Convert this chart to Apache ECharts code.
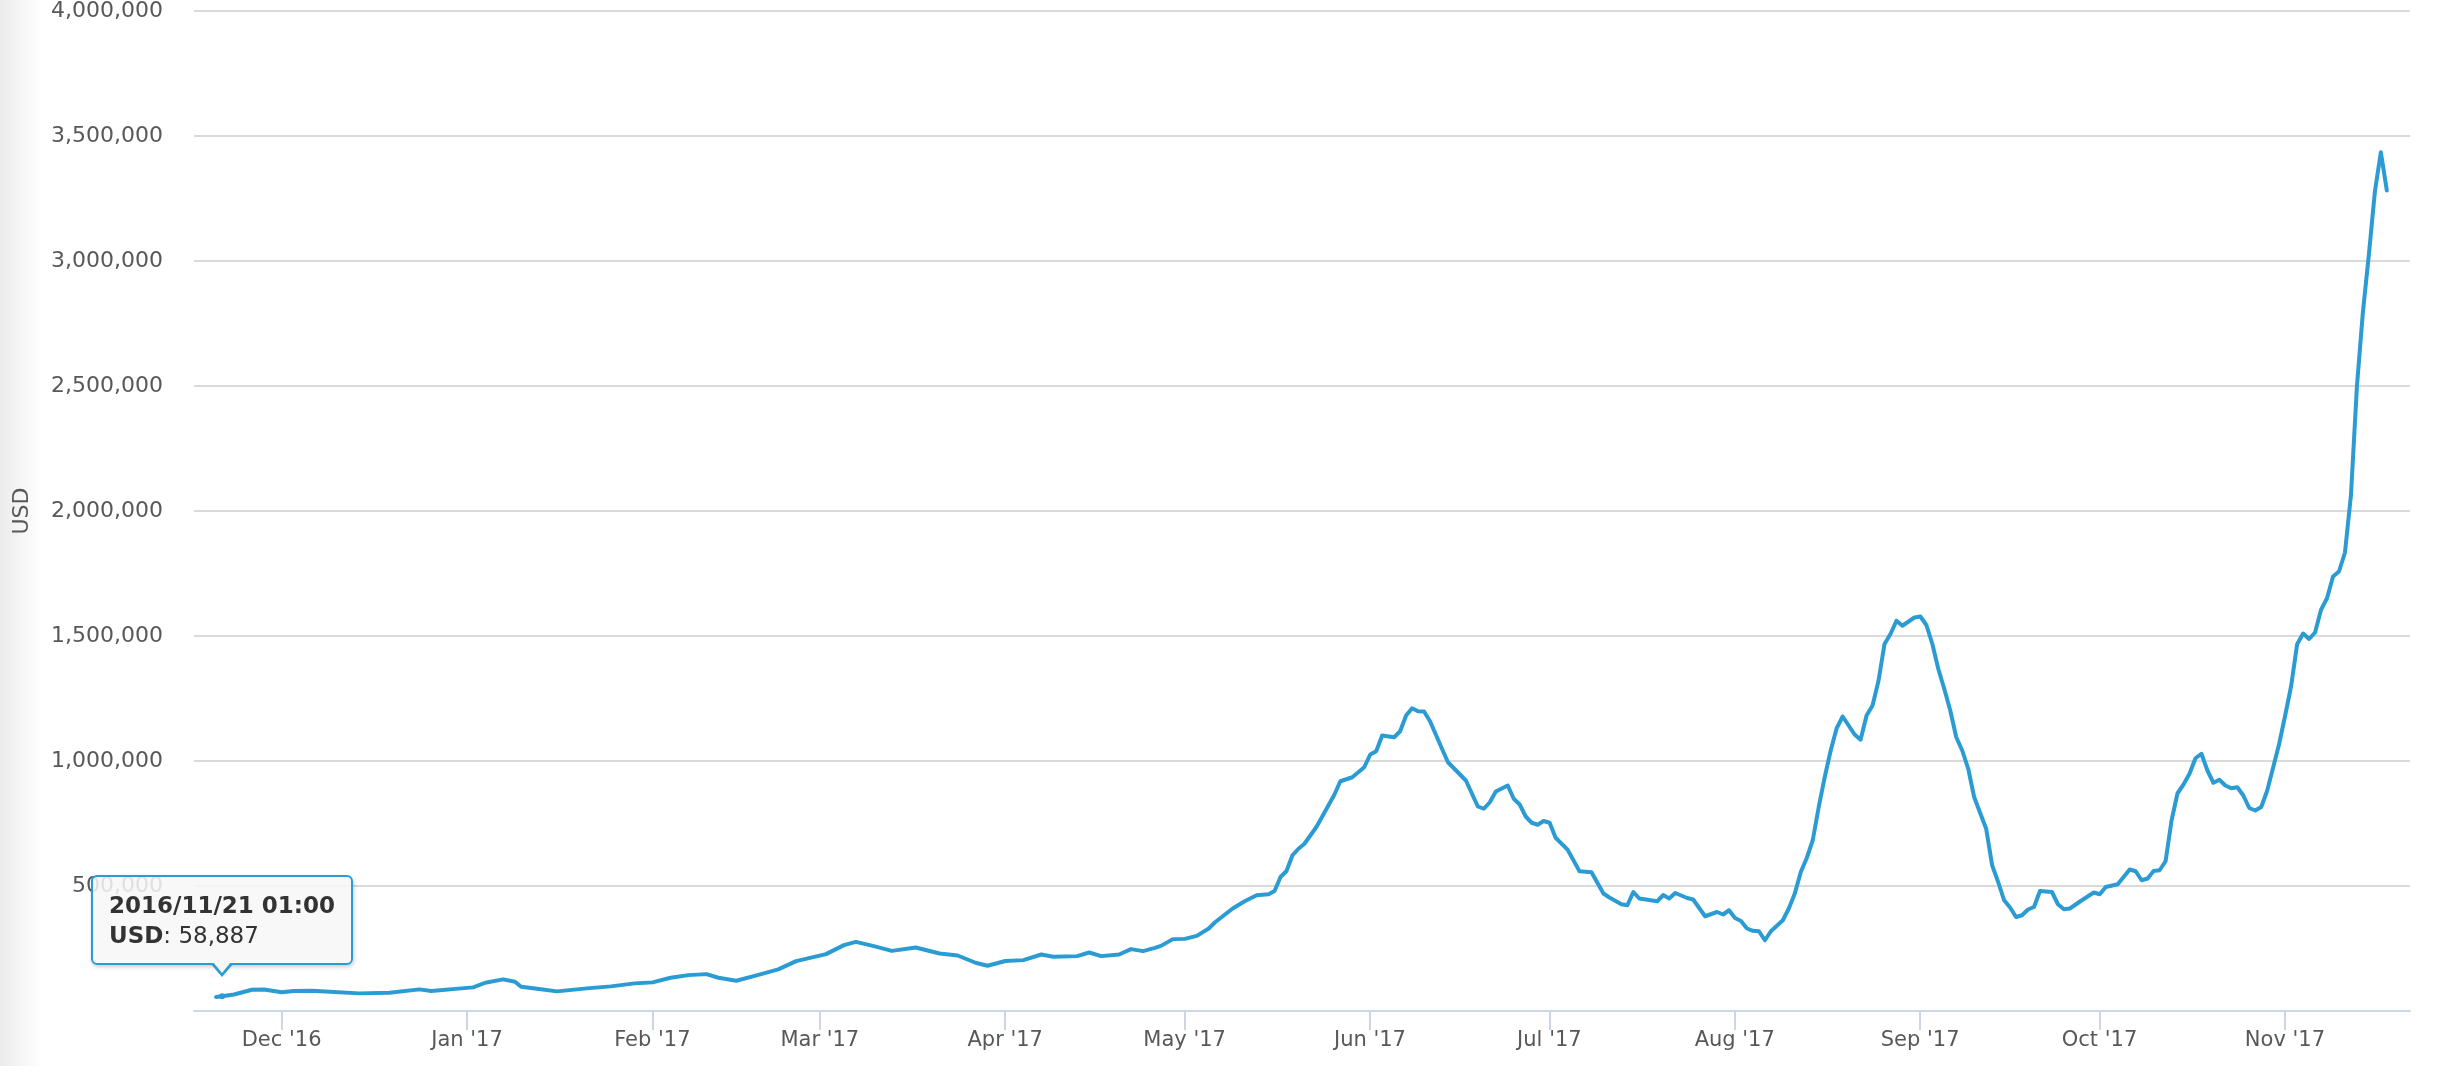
<!DOCTYPE html>
<html>
<head>
<meta charset="utf-8">
<script src="https://cdn.jsdelivr.net/npm/echarts@6/dist/echarts.min.js"></script>
<style>
html,body{margin:0;padding:0;width:2454px;height:1066px;overflow:hidden;
  background:linear-gradient(to right,#ebebeb 0px,#f4f4f4 18px,#ffffff 42px);}
#chart{width:2454px;height:1066px;}
</style>
</head>
<body>
<div id="chart"></div>
<script>
// ---- data ----
const dates = [
'2016-11-20','2016-11-21','2016-11-23','2016-11-26','2016-11-28',
'2016-12-01','2016-12-03','2016-12-06','2016-12-09','2016-12-14','2016-12-19','2016-12-24','2016-12-26','2016-12-31',
'2017-01-02','2017-01-04','2017-01-07','2017-01-09','2017-01-10','2017-01-13','2017-01-16','2017-01-21','2017-01-25','2017-01-29',
'2017-02-01','2017-02-04','2017-02-07','2017-02-10','2017-02-12','2017-02-15','2017-02-19','2017-02-22','2017-02-25',
'2017-03-02','2017-03-05','2017-03-07','2017-03-10','2017-03-13','2017-03-17','2017-03-21','2017-03-24','2017-03-27','2017-03-29',
'2017-04-01','2017-04-04','2017-04-07','2017-04-09','2017-04-13','2017-04-15','2017-04-17','2017-04-20','2017-04-22','2017-04-24','2017-04-26','2017-04-27','2017-04-29',
'2017-05-01','2017-05-03','2017-05-05','2017-05-06','2017-05-09','2017-05-11','2017-05-13','2017-05-15','2017-05-16','2017-05-17','2017-05-18','2017-05-19','2017-05-20','2017-05-21','2017-05-23','2017-05-25','2017-05-26','2017-05-27','2017-05-29','2017-05-31',
'2017-06-01','2017-06-02','2017-06-03','2017-06-05','2017-06-06','2017-06-07','2017-06-08','2017-06-09','2017-06-10','2017-06-11','2017-06-13','2017-06-14','2017-06-17','2017-06-19','2017-06-20','2017-06-21','2017-06-22','2017-06-24','2017-06-25','2017-06-26','2017-06-27','2017-06-28','2017-06-29','2017-06-30',
'2017-07-01','2017-07-02','2017-07-04','2017-07-06','2017-07-08','2017-07-10','2017-07-11','2017-07-13','2017-07-14','2017-07-15','2017-07-16','2017-07-19','2017-07-20','2017-07-21','2017-07-22','2017-07-24','2017-07-25','2017-07-27','2017-07-29','2017-07-30','2017-07-31',
'2017-08-01','2017-08-02','2017-08-03','2017-08-04','2017-08-05','2017-08-06','2017-08-07','2017-08-09','2017-08-10','2017-08-11','2017-08-12','2017-08-13','2017-08-14','2017-08-15','2017-08-16','2017-08-17','2017-08-18','2017-08-19','2017-08-20','2017-08-21','2017-08-22','2017-08-23','2017-08-24','2017-08-25','2017-08-26','2017-08-27','2017-08-28','2017-08-29','2017-08-31',
'2017-09-01','2017-09-02','2017-09-03','2017-09-04','2017-09-05','2017-09-06','2017-09-07','2017-09-08','2017-09-09','2017-09-10','2017-09-12','2017-09-13','2017-09-14','2017-09-15','2017-09-16','2017-09-17','2017-09-18','2017-09-19','2017-09-20','2017-09-21','2017-09-23','2017-09-24','2017-09-25','2017-09-26','2017-09-28','2017-09-30',
'2017-10-01','2017-10-02','2017-10-04','2017-10-06','2017-10-07','2017-10-08','2017-10-09','2017-10-10','2017-10-11','2017-10-12','2017-10-13','2017-10-14','2017-10-15','2017-10-16','2017-10-17','2017-10-18','2017-10-19','2017-10-20','2017-10-21','2017-10-22','2017-10-23','2017-10-24','2017-10-25','2017-10-26','2017-10-27','2017-10-28','2017-10-29','2017-10-30','2017-10-31',
'2017-11-01','2017-11-02','2017-11-03','2017-11-04','2017-11-05','2017-11-06','2017-11-07','2017-11-08','2017-11-09','2017-11-10','2017-11-11','2017-11-12','2017-11-13','2017-11-14','2017-11-15','2017-11-16','2017-11-17','2017-11-18'
];
const usd = [
56000,58887,66000,85000,86000,
75000,80000,81000,77000,70500,73000,86500,80000,90500,
94500,113000,126500,117000,97000,88000,78500,90500,98500,110500,
114500,133000,143500,147500,133000,121000,146500,166500,199500,
227500,263500,276500,259500,240500,254000,230000,222000,193000,181000,
200000,203500,226000,216800,219500,234000,219500,226000,247500,239500,252500,260500,287500,
288500,300500,330000,354000,410000,439000,463000,467000,480000,536000,560000,623000,649000,669000,736000,822000,865000,919000,935000,975000,
1026000,1039000,1102000,1095000,1119000,1182000,1211000,1199000,1198000,1159000,1049000,995000,922000,818000,809000,835000,878000,902000,849000,826000,778000,753000,745000,760000,
753000,693000,645500,559000,555000,470000,454000,427000,423000,476000,450000,439000,464000,450000,472000,452000,446000,379000,396000,386000,403000,
372000,360000,330000,320600,319000,283000,319000,363000,410000,470000,556000,612000,683000,816000,935000,1042000,1131000,1178000,1142000,1106000,1085000,1182000,1222000,1321000,1468000,1508000,1561000,1541000,1574000,
1578000,1544000,1468000,1368000,1288000,1202000,1095000,1042000,969000,855000,729000,583000,516000,443000,414000,376000,383000,406000,416000,480000,476000,427000,407000,410000,443000,474000,
467000,496000,507000,566000,559000,523000,530000,560000,563000,599000,762000,871000,906000,949000,1011000,1029000,962000,913000,925000,902000,891000,895000,862000,812000,802000,816000,882000,975000,1069000,
1182000,1300000,1467000,1510000,1488000,1514000,1605000,1651000,1738000,1758000,1834000,2063000,2499000,2796000,3026000,3277000,3435000,3282000
];
const monthNames = ['Jan','Feb','Mar','Apr','May','Jun','Jul','Aug','Sep','Oct','Nov','Dec'];
const seriesName = 'USD';
const tipIndex = 1;

// ---- helpers ----
function toTs(s, h, m) {
  const p = s.split('-').map(Number);
  return +new Date(p[0], p[1] - 1, p[2], h || 0, m || 0);
}
const seriesData = dates.map((d, i) => [toTs(d, 1, 0), usd[i]]);
const pad = n => (n < 10 ? '0' : '') + n;
const FONT = '"DejaVu Sans", Verdana, sans-serif';
const LINE = '#2a9bd3';
const TXT = '#585858';
const DAY = 86400000;

const chart = echarts.init(document.getElementById('chart'));
chart.setOption({
  animation: false,
  grid: {left: 194, right: 44, top: 9, bottom: 55, containLabel: false},
  xAxis: {
    type: 'time',
    min: toTs('2016-11-16', 8, 24),
    max: toTs('2017-11-21', 22, 0),
    splitNumber: 12,
    minInterval: 28 * DAY,
    maxInterval: 31 * DAY,
    axisLine: {show: true, lineStyle: {color: '#ccd6eb', width: 2}},
    axisTick: {show: true, length: 19, lineStyle: {color: '#ccd6eb', width: 2}},
    axisLabel: {
      color: TXT, fontSize: 21, fontFamily: FONT, margin: 19,
      showMinLabel: false, showMaxLabel: false,
      formatter: function (v) {
        const d = new Date(v);
        return monthNames[d.getMonth()] + " '" + String(d.getFullYear()).slice(2);
      }
    },
    splitLine: {show: false}
  },
  yAxis: {
    type: 'value', min: 0, max: 4000000, interval: 500000,
    name: seriesName, nameLocation: 'middle', nameGap: 161, nameRotate: 90,
    nameTextStyle: {color: TXT, fontSize: 22, fontFamily: FONT},
    axisLine: {show: false}, axisTick: {show: false},
    axisLabel: {
      showMinLabel: false, margin: 31, color: TXT, fontSize: 22, fontFamily: FONT,
      padding: [8, 0, 0, 0],
      formatter: v => Number(v).toLocaleString('en-US')
    },
    splitLine: {lineStyle: {color: '#dadada', width: 2}}
  },
  tooltip: {
    trigger: 'axis',
    axisPointer: {type: 'none'},
    alwaysShowContent: true,
    transitionDuration: 0,
    backgroundColor: 'rgba(247,247,247,0.85)',
    borderColor: LINE,
    borderWidth: 2,
    padding: [13, 16],
    extraCssText: 'border-radius:6px; box-shadow:1px 2px 4px rgba(0,0,0,0.2);',
    textStyle: {fontFamily: FONT, fontSize: 23, color: '#333333'},
    position: function (p, params, dom, rect, size) {
      return [p[0] - size.contentSize[0] / 2, p[1] - size.contentSize[1] - 31];
    },
    formatter: function (params) {
      const p = params[0];
      const d = new Date(p.value[0]);
      const t = d.getFullYear() + '/' + pad(d.getMonth() + 1) + '/' + pad(d.getDate()) + ' ' +
                pad(d.getHours()) + ':' + pad(d.getMinutes());
      return '<div style="line-height:30px;white-space:nowrap;">' +
        '<b>' + t + '</b><br><b>' + seriesName + '</b>: ' + Number(p.value[1]).toLocaleString('en-US') +
        '</div>' +
        '<div style="position:absolute;left:50%;bottom:-14px;margin-left:-12px;width:0;height:0;' +
        'border-left:12px solid transparent;border-right:12px solid transparent;border-top:14px solid ' + LINE + ';"></div>' +
        '<div style="position:absolute;left:50%;bottom:-10px;margin-left:-9px;width:0;height:0;' +
        'border-left:9px solid transparent;border-right:9px solid transparent;border-top:11px solid #f7f7f7;"></div>';
    }
  },
  series: [{
    name: seriesName,
    type: 'line',
    data: seriesData,
    showSymbol: false,
    symbol: 'circle',
    symbolSize: 1,
    lineStyle: {color: LINE, width: 4, join: 'round', cap: 'round'},
    itemStyle: {color: LINE},
    emphasis: {disabled: true}
  }]
});
function showTip() {
  chart.dispatchAction({type: 'showTip', seriesIndex: 0, dataIndex: tipIndex});
}
showTip();
setTimeout(showTip, 30);
</script>
</body>
</html>
